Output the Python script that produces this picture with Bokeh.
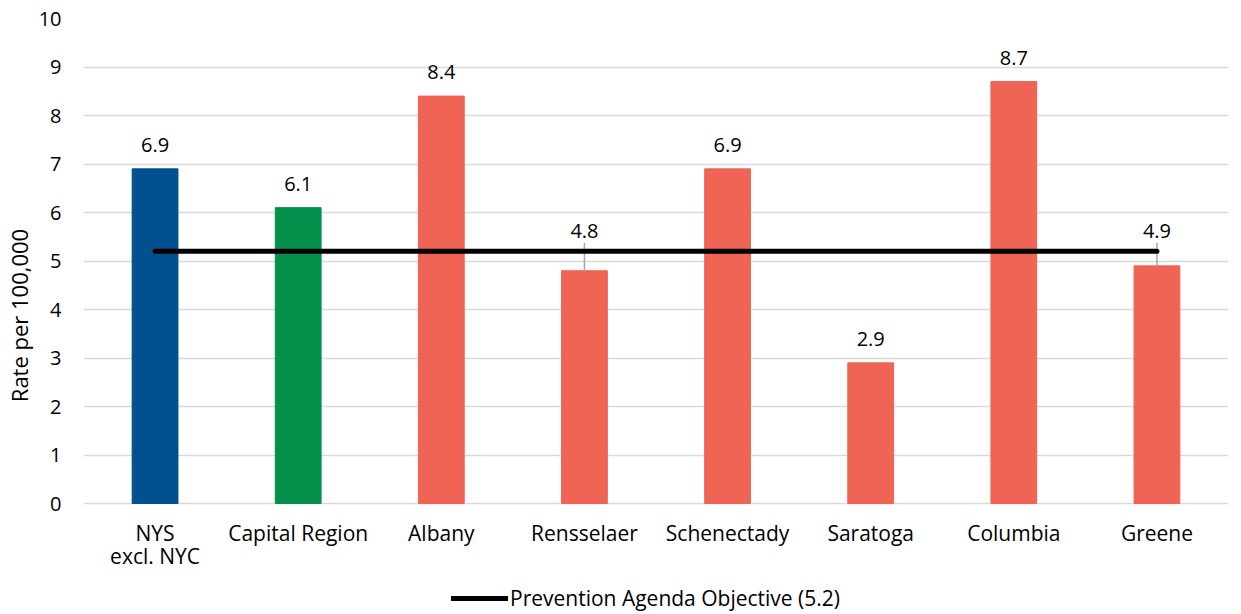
from bokeh.plotting import figure
from bokeh.models import FactorRange, Range1d, FixedTicker, Legend, LegendItem, ColumnDataSource, Title
from bokeh.embed import file_html
from bokeh.resources import INLINE
from bokeh.core.properties import value

categories = ["NYS\nexcl. NYC", "Capital Region", "Albany", "Rensselaer",
              "Schenectady", "Saratoga", "Columbia", "Greene"]
rates = [6.9, 6.1, 8.4, 4.8, 6.9, 2.9, 8.7, 4.9]
bar_colors = ["#02508F", "#04904A", "#F06455", "#F06455", "#F06455", "#F06455", "#F06455", "#F06455"]
objective = 5.2
objective_label = "Prevention Agenda Objective (5.2)"
y_label = "Rate per 100,000"
y_ticks = [0, 1, 2, 3, 4, 5, 6, 7, 8, 9, 10]

FONT = "Open Sans"
FS_NUM = "20px"
FS_TXT = "21px"

# layout: value axis 0..10 spans 485 px; extra room below 0 holds category labels and legend
VAL_PX = 485
EXTRA_PX = 109
y_min = -EXTRA_PX * y_ticks[-1] / VAL_PX

p = figure(x_range=FactorRange(*categories), y_range=Range1d(y_min, y_ticks[-1]),
           frame_width=1145, frame_height=VAL_PX + EXTRA_PX,
           output_backend="svg", toolbar_location=None, x_axis_location=None,
           min_border_top=18, min_border_left=80, min_border_right=5, min_border_bottom=0)
p.outline_line_color = None
p.background_fill_color = "white"

# grid
p.xgrid.grid_line_color = None
p.ygrid.grid_line_color = "#D9D9D9"
p.ygrid.grid_line_width = 1.5
p.yaxis.ticker = FixedTicker(ticks=y_ticks)

# y axis
p.yaxis.axis_line_color = None
p.yaxis.major_tick_line_color = None
p.yaxis.minor_tick_line_color = None
p.yaxis.major_tick_out = 0
p.yaxis.major_tick_in = 0
p.yaxis.major_label_text_font = FONT
p.yaxis.major_label_text_font_size = FS_NUM
p.yaxis.major_label_text_color = "#000000"
p.yaxis.major_label_standoff = 22

ytitle = Title(text=y_label, align="center", offset=59, standoff=3,
               text_font=FONT, text_font_size="22px", text_font_style="normal",
               text_color="#000000")
p.add_layout(ytitle, "left")

# bars
src = ColumnDataSource(dict(x=categories, top=rates, color=bar_colors))
p.vbar(x="x", top="top", width=0.32, color="color", source=src)

# category labels under the zero line
p.text(x=categories, y=[0] * len(categories), text=categories, y_offset=15,
       text_align="center", text_baseline="top", text_line_height=0.85,
       text_font=value(FONT), text_font_size=FS_TXT, text_color="#000000")

# data labels: labels that would collide with the objective line are lifted above it
lab_x, lab_y, lab_off, lab_txt = [], [], [], []
lead_x, lead_y0, lead_y1 = [], [], []
for c, r in zip(categories, rates):
    lab_x.append(c)
    lab_txt.append(f"{r:.1f}")
    if r < objective and objective - r < 0.5:
        lab_y.append(objective)
        lab_off.append(-20)
        lead_x.append(c)
        lead_y0.append(r)
        lead_y1.append(objective + 0.17)
    else:
        lab_y.append(r)
        lab_off.append(-24)

p.segment(x0=lead_x, x1=lead_x, y0=lead_y0, y1=lead_y1, line_color="#A6A6A6", line_width=1.5)

obj_line = p.line(x=[categories[0], categories[-1]], y=[objective, objective],
                  line_color="black", line_width=5, line_cap="round")

p.text(x=lab_x, y=lab_y, text=lab_txt, y_offset=lab_off, text_align="center",
       text_baseline="middle", text_font=value(FONT), text_font_size=FS_NUM, text_color="#000000")

legend = Legend(items=[LegendItem(label=objective_label, renderers=[obj_line])],
                orientation="horizontal", location=(368, 0),
                label_text_font=FONT, label_text_font_size=FS_TXT, label_text_color="#000000",
                glyph_width=57, glyph_height=22, label_standoff=2, label_height=22,
                border_line_color=None, background_fill_alpha=0,
                padding=2, margin=0, spacing=0)
p.add_layout(legend, "center")

open("out.html", "w").write(file_html(p, INLINE))
